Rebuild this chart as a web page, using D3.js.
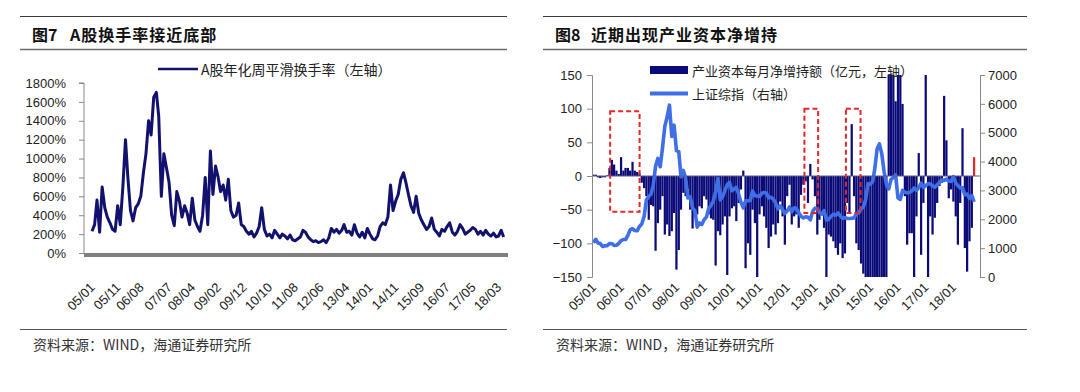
<!DOCTYPE html>
<html><head><meta charset="utf-8">
<script src="https://cdn.jsdelivr.net/npm/d3@7"></script>
<style>
body{margin:0;background:#fff;}
svg{display:block;font-family:"Liberation Sans",Arial,sans-serif;}
</style></head><body>
<svg id="c" width="1080" height="392"></svg>
<script>
// ---------------- DATA ----------------
// Fig 7: A-share annualised weekly smoothed turnover (%), monthly samples from 2005-01
const turnoverStart = "2005-01";
const turnoverValues = [
 230,300,560,220,700,480,380,320,250,230,500,300,
 700,1200,800,450,340,480,520,600,850,1050,1400,1250,
 1650,1700,1450,600,1050,900,750,400,290,650,550,380,
 500,420,300,580,350,280,230,400,800,300,1080,620,
 920,800,650,720,560,780,450,380,400,530,300,280,
 230,200,230,170,210,280,480,250,180,200,160,240,
 200,160,200,180,150,190,140,130,150,170,240,220,
 170,140,120,130,110,120,140,110,160,260,220,250,
 210,240,300,220,230,190,300,210,170,220,160,260,
 200,150,140,180,280,320,300,380,720,450,550,620,
 780,850,750,620,500,430,600,420,350,300,250,280,
 370,250,220,180,250,230,280,320,220,190,230,300,
 260,200,220,240,270,250,200,230,190,240,200,180,
 210,170,180,240,170
];
const turnoverTickLabels = ["05/01","05/11","06/08","07/07","08/04","09/02","09/12","10/10","11/08","12/06","13/04","14/01","14/11","15/09","16/07","17/05","18/03"];
const turnoverYTicks = [0,200,400,600,800,1000,1200,1400,1600,1800];

// Fig 8: monthly net increase of holdings by industrial capital (100m CNY, left) and SSE Composite (right), from 2005-01
const capitalStart = "2005-01";
const capitalValues = [
 2,2,-2,-3,-2,-2,1,12,24,17,8,3,
 28,8,12,12,8,21,8,6,4,-10,-18,-30,
 -65,-43,-45,-111,-70,-50,-30,-87,-72,-89,-82,-55,
 -139,-110,-50,-25,-30,-20,-50,-78,-60,-57,-45,-48,
 -30,-35,-57,-63,-65,-133,-82,-88,-72,-60,-147,-60,
 -48,-45,-67,-40,-20,8,-137,-100,-117,-50,-70,-150,
 -57,-45,-60,-77,-107,-90,-72,-87,-70,-38,-60,-102,
 -30,-13,-72,-60,-57,-77,-28,-13,-8,-40,18,-5,
 -30,-87,-65,-57,-77,-150,-87,-90,-97,-107,-117,-100,
 -122,-115,-40,-55,77,-30,-100,-110,-130,-145,-150,-150,
 -150,-150,-150,-150,-150,-150,-150,-150,150,150,150,111,
 150,150,107,-30,-102,-85,-85,-150,-60,34,-117,-40,
 150,-150,-60,-87,-62,-40,-15,-10,119,53,-33,-20,
 -38,-60,-102,-40,71,-107,-142,-97,-77,28
];
const sseValues = [
 1191,1306,1181,1159,1060,1080,1083,1162,1155,1093,1099,1161,
 1258,1299,1299,1440,1642,1672,1612,1601,1753,1837,2099,2675,
 2786,2881,3183,3841,4109,3820,4471,5218,5552,5954,4871,5262,
 4383,4348,3473,3693,3433,2736,2775,2397,2293,1729,1871,1821,
 1990,2082,2373,2477,2633,2959,3412,2667,2779,2996,3195,3277,
 2989,3051,3109,2870,2592,2398,2638,2639,2655,2979,2820,2808,
 2790,2905,2928,2911,2743,2762,2701,2568,2359,2468,2333,2199,
 2292,2428,2262,2397,2373,2225,2103,2047,2086,2069,1980,2269,
 2385,2366,2237,2178,2301,1979,1994,2098,2175,2141,2220,2116,
 2033,2056,2033,2026,2039,2048,2201,2217,2364,2420,2683,3235,
 3210,3310,3748,4441,4612,4277,3664,3206,3053,3383,3445,3539,
 2738,2688,3004,2938,2917,2930,2979,3085,3005,3100,3250,3104,
 3159,3242,3223,3155,3117,3192,3273,3361,3349,3393,3317,3307,
 3481,3259,3169,3082,3095,2847,2876,2725,2821,2603
];
const capitalTickLabels = ["05/01","06/01","07/01","08/01","09/01","10/01","11/01","12/01","13/01","14/01","15/01","16/01","17/01","18/01"];
const capitalLeftTicks = [-150,-100,-50,0,50,100,150];
const sseRightTicks = [0,1000,2000,3000,4000,5000,6000,7000];
// highlighted periods (dashed boxes): start date, end date, top, bottom (left-axis units)
const boxStarts = ["2005-08-10","2012-08-15","2014-02-13"];
const boxEnds   = ["2006-09-02","2013-02-12","2014-08-25"];
const boxTops   = [96,100,100];
const boxBottoms= [-53,-55,-55];

// ---------------- DRAW ----------------
const svg = d3.select("#c");
const CJK = '"Noto Sans CJK SC","Noto Sans",sans-serif';
const NAVY = "#12126e", BAR = "#0a0a78", BLUE = "#3f6fe6", RED = "#e2282a";
const parseYM = d3.timeParse("%Y-%m");
const parseD = d3.timeParse("%Y-%m-%d");
const labelDate = s => new Date(2000 + +s.slice(0,2), +s.slice(3,5) - 1, 1);

function panelFrame(x0, x1, fig, title, tx) {
  svg.append("line").attr("x1",x0).attr("x2",x1).attr("y1",16.5).attr("y2",16.5).attr("stroke","#3a3a3a").attr("stroke-width",1);
  svg.append("line").attr("x1",x0).attr("x2",x1).attr("y1",49.5).attr("y2",49.5).attr("stroke","#6a6a6a").attr("stroke-width",1.5);
  svg.append("line").attr("x1",x0).attr("x2",x1).attr("y1",329.5).attr("y2",329.5).attr("stroke","#555").attr("stroke-width",1.2);
  svg.append("text").attr("x",x0+12).attr("y",33.5).attr("dominant-baseline","central")
    .style("font-family",CJK).style("font-size","16px").style("font-weight","700").attr("fill","#111").text(fig);
  svg.append("text").attr("x",tx).attr("y",33.5).attr("dominant-baseline","central")
    .style("font-family",CJK).style("font-size","16px").style("font-weight","700").style("letter-spacing","1px").attr("fill","#111").text(title);
  svg.append("text").attr("x",x0+13).attr("y",344).attr("dominant-baseline","central")
    .style("font-family",CJK).style("font-size","14px").attr("fill","#333").text("资料来源：WIND，海通证券研究所");
}
panelFrame(20, 507, "图7", "A股换手率接近底部", 70);
panelFrame(543, 1027, "图8", "近期出现产业资本净增持", 591);

function styleAxis(g){
  g.selectAll("text").style("font-size","13px").attr("fill","#222");
  g.selectAll("line").attr("stroke","#8a8a8a");
  g.select(".domain").attr("stroke","#8a8a8a");
}

// ===== Figure 7 =====
{
  const t0 = parseYM(turnoverStart);
  const data = turnoverValues.map((v,i)=>({d:d3.timeMonth.offset(t0,i), v}));
  const x = d3.scaleTime().domain([new Date(2005,0,1), new Date(2018,2,1)]).range([92, 498.5]);
  const y = d3.scaleLinear().domain([0,1800]).range([253,83]);
  const left = 84, right = 508;

  const gy = svg.append("g").attr("transform",`translate(${left},0)`)
    .call(d3.axisLeft(y).tickValues(turnoverYTicks).tickSize(5).tickPadding(13).tickFormat(d=>d+"%"));
  styleAxis(gy);
  gy.select(".domain").attr("d",`M-5,${y(1800)}H0V${y(0)}`);

  svg.append("line").attr("x1",left).attr("x2",right).attr("y1",y(0)+2).attr("y2",y(0)+2)
    .attr("stroke","#808080").attr("stroke-width",4);

  const gx = svg.append("g").attr("transform","translate(0,285)")
    .call(d3.axisBottom(x).tickValues(turnoverTickLabels.map(labelDate)).tickSize(0).tickPadding(0)
      .tickFormat((d,i)=>turnoverTickLabels[i]));
  gx.select(".domain").remove();
  gx.selectAll("text").attr("y",0).attr("x",0).attr("dy","0.35em").attr("text-anchor","end")
    .attr("transform","rotate(-45)").style("font-size","13px").attr("fill","#222");

  svg.append("path").datum(data)
    .attr("d", d3.line().x(d=>x(d.d)).y(d=>y(d.v)))
    .attr("fill","none").attr("stroke",NAVY).attr("stroke-width",3).attr("stroke-linejoin","round");

  svg.append("line").attr("x1",158).attr("x2",198).attr("y1",69).attr("y2",69).attr("stroke",NAVY).attr("stroke-width",2.6);
  svg.append("text").attr("x",201).attr("y",69).attr("dominant-baseline","central")
    .style("font-family",CJK).style("font-size","14px").attr("fill","#222").text("A股年化周平滑换手率（左轴）");
}

// ===== Figure 8 =====
{
  const t0 = parseYM(capitalStart);
  const bars = capitalValues.map((v,i)=>({d:d3.timeMonth.offset(t0,i), v}));
  const sse = sseValues.map((v,i)=>({d:d3.timeMonth.offset(t0,i), v}));
  const x = d3.scaleTime().domain([new Date(2005,0,1), new Date(2018,0,1)]).range([593.4, 953.4]);
  const yL = d3.scaleLinear().domain([-150,150]).range([277,75]);
  const yR = d3.scaleLinear().domain([0,7000]).range([277,75]);
  const left = 592, right = 980;
  const step = x(new Date(2005,1,1)) - x(new Date(2005,0,1));
  const bw = step*0.95;

  svg.append("clipPath").attr("id","clip8").append("rect")
    .attr("x",left).attr("y",yL(150)).attr("width",right-left).attr("height",yL(-150)-yL(150));
  const plot = svg.append("g").attr("clip-path","url(#clip8)");

  plot.selectAll("rect.bar").data(bars).join("rect").attr("class","bar")
    .attr("x",d=>x(d.d)-bw/2).attr("width",bw)
    .attr("y",d=>yL(Math.max(0,d.v))).attr("height",d=>Math.abs(yL(d.v)-yL(0)))
    .attr("fill",(d,i)=> i===bars.length-1 ? RED : BAR);

  svg.append("line").attr("x1",left).attr("x2",right).attr("y1",yL(0)).attr("y2",yL(0))
    .attr("stroke","#5a5a8a").attr("stroke-width",1);

  plot.append("path").datum(sse)
    .attr("d", d3.line().x(d=>x(d.d)).y(d=>yR(d.v)))
    .attr("fill","none").attr("stroke",BLUE).attr("stroke-width",3.6).attr("stroke-linejoin","round");

  boxStarts.forEach((s,i)=>{
    const x0 = x(parseD(s)), x1 = x(parseD(boxEnds[i]));
    svg.append("rect").attr("x",x0).attr("width",x1-x0)
      .attr("y",yL(boxTops[i])).attr("height",yL(boxBottoms[i])-yL(boxTops[i]))
      .attr("fill","none").attr("stroke",RED).attr("stroke-width",2).attr("stroke-dasharray","5,3");
  });

  const gyl = svg.append("g").attr("transform",`translate(${left},0)`)
    .call(d3.axisLeft(yL).tickValues(capitalLeftTicks).tickSize(5).tickPadding(5));
  styleAxis(gyl);
  const gyr = svg.append("g").attr("transform",`translate(${right},0)`)
    .call(d3.axisRight(yR).tickValues(sseRightTicks).tickSize(5).tickPadding(3).tickFormat(d3.format("d")));
  styleAxis(gyr);

  const gx = svg.append("g").attr("transform","translate(0,285)")
    .call(d3.axisBottom(x).tickValues(capitalTickLabels.map(labelDate)).tickSize(0).tickPadding(0)
      .tickFormat((d,i)=>capitalTickLabels[i]));
  gx.select(".domain").remove();
  gx.selectAll("text").attr("y",0).attr("x",0).attr("dy","0.35em").attr("text-anchor","end")
    .attr("transform","rotate(-45)").style("font-size","13px").attr("fill","#222");

  svg.append("rect").attr("x",650).attr("y",66).attr("width",38).attr("height",8).attr("fill",BAR);
  svg.append("text").attr("x",692).attr("y",70).attr("dominant-baseline","central")
    .style("font-family",CJK).style("font-size","13px").attr("fill","#222").text("产业资本每月净增持额（亿元，左轴）");
  svg.append("line").attr("x1",650).attr("x2",688).attr("y1",93.5).attr("y2",93.5).attr("stroke",BLUE).attr("stroke-width",4);
  svg.append("text").attr("x",692).attr("y",93.5).attr("dominant-baseline","central")
    .style("font-family",CJK).style("font-size","13px").attr("fill","#222").text("上证综指（右轴）");
}
</script>
</body></html>
